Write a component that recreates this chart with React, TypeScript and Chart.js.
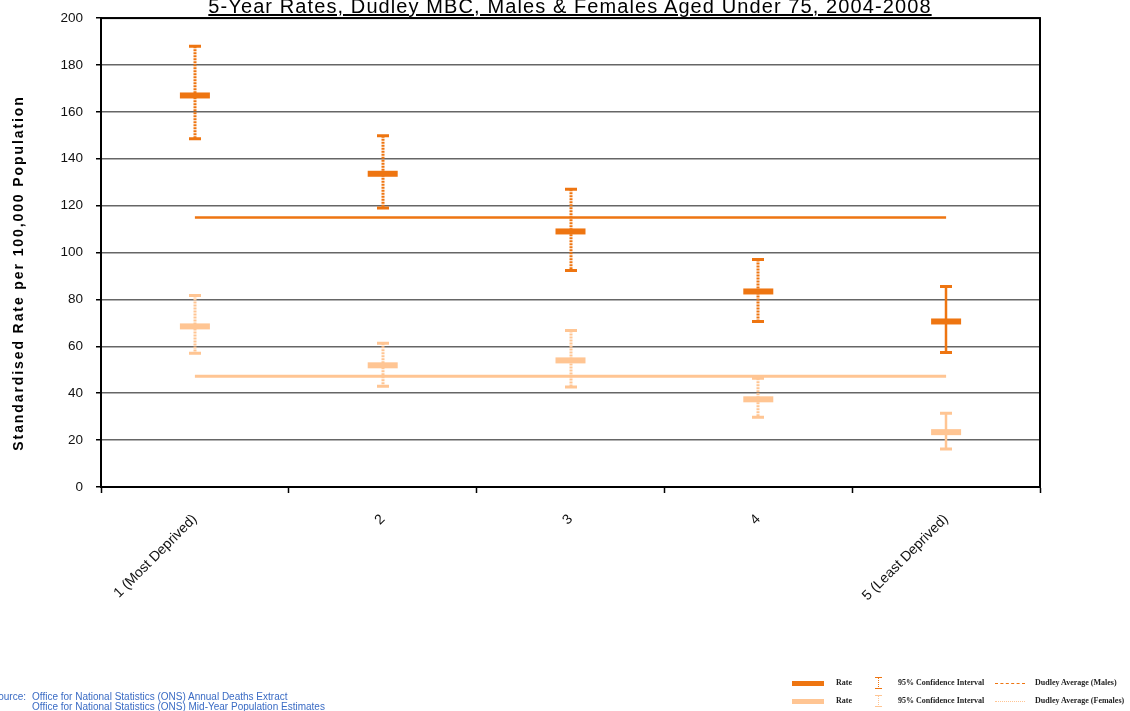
import React, { useEffect, useRef } from "react";
import { Chart, registerables } from "chart.js";

Chart.register(...registerables);

const categories = ["1 (Most Deprived)", "2", "3", "4", "5 (Least Deprived)"];
const maleRate = [167, 133.6, 109, 83.4, 70.6];
const maleLower = [148.5, 119, 92.3, 70.6, 57.4];
const maleUpper = [188, 149.8, 127, 97, 85.5];
const femaleRate = [68.5, 51.9, 54, 37.4, 23.4];
const femaleLower = [57, 43, 42.6, 29.8, 16.2];
const femaleUpper = [81.7, 61.3, 66.8, 46.4, 31.5];
const maleAverage = [115, 115, 115, 115, 115];
const femaleAverage = [47.2, 47.2, 47.2, 47.2, 47.2];
const maleDotted = [true, true, true, true, false];
const femaleDotted = [true, true, true, true, false];
const yTicks = [0, 20, 40, 60, 80, 100, 120, 140, 160, 180, 200];

const MALE = "#EE7511";
const FEMALE = "#FFC593";

const errorBarPlugin = {
  id: "errorBars",
  afterDatasetDraw(chart: any, args: any) {
    if (args.index !== 2) return;
    const ctx = chart.ctx;
    const x = chart.scales.x;
    const y = chart.scales.y;
    const drawSet = (lo: number[], hi: number[], dotted: boolean[], color: string) => {
      for (let i = 0; i < lo.length; i++) {
        const px = Math.round(x.getPixelForValue(i));
        const yl = y.getPixelForValue(lo[i]);
        const yh = y.getPixelForValue(hi[i]);
        ctx.save();
        ctx.strokeStyle = color;
        ctx.lineWidth = dotted[i] ? 3 : 2.5;
        ctx.setLineDash(dotted[i] ? [2, 1] : []);
        ctx.beginPath();
        ctx.moveTo(px, yh);
        ctx.lineTo(px, yl);
        ctx.stroke();
        ctx.setLineDash([]);
        ctx.lineWidth = 3;
        ctx.beginPath();
        ctx.moveTo(px - 6, yh);
        ctx.lineTo(px + 6, yh);
        ctx.moveTo(px - 6, yl);
        ctx.lineTo(px + 6, yl);
        ctx.stroke();
        ctx.restore();
      }
    };
    drawSet(femaleLower, femaleUpper, femaleDotted, FEMALE);
    drawSet(maleLower, maleUpper, maleDotted, MALE);
  },
};

const framePlugin = {
  id: "frame",
  afterDraw(chart: any) {
    const { left, right, top, bottom } = chart.chartArea;
    const ctx = chart.ctx;
    ctx.save();
    ctx.strokeStyle = "#000";
    ctx.lineWidth = 2;
    ctx.strokeRect(left, top, right - left, bottom - top);
    ctx.restore();
  },
};

export default function App() {
  const ref = useRef<HTMLCanvasElement | null>(null);
  useEffect(() => {
    if (!ref.current) return;
    const chart = new Chart(ref.current, {
      type: "line",
      data: {
        labels: categories,
        datasets: [
          {
            label: "Rate (Males)",
            data: maleRate,
            showLine: false,
            pointStyle: "line",
            pointRadius: 15,
            pointBorderWidth: 6,
            borderColor: MALE,
            backgroundColor: MALE,
          },
          {
            label: "Rate (Females)",
            data: femaleRate,
            showLine: false,
            pointStyle: "line",
            pointRadius: 15,
            pointBorderWidth: 6,
            borderColor: FEMALE,
            backgroundColor: FEMALE,
          },
          {
            label: "Dudley Average (Males)",
            data: maleAverage,
            pointRadius: 0,
            borderWidth: 2.5,
            borderColor: MALE,
          },
          {
            label: "Dudley Average (Females)",
            data: femaleAverage,
            pointRadius: 0,
            borderWidth: 3,
            borderColor: FEMALE,
          },
        ],
      },
      options: {
        animation: false,
        responsive: false,
        layout: { padding: { left: 0, right: 90, top: 0, bottom: 0 } },
        plugins: { legend: { display: false }, title: { display: false }, tooltip: { enabled: false } },
        scales: {
          x: {
            offset: true,
            grid: { offset: true, drawOnChartArea: false, tickLength: 6, tickColor: "#000", tickWidth: 1.5 },
            border: { color: "#000", width: 2 },
            ticks: {
              maxRotation: 45,
              minRotation: 45,
              color: "#111",
              font: { family: "Liberation Sans, Arial", size: 14 },
              padding: 18,
            },
            afterFit(scale: any) {
              scale.height = 224;
            },
          },
          y: {
            min: 0,
            max: 200,
            afterBuildTicks(scale: any) {
              scale.ticks = yTicks.map((v) => ({ value: v }));
            },
            grid: { color: "#666", lineWidth: 1.5, tickLength: 5, tickColor: "#000", tickWidth: 1.5 },
            border: { color: "#000", width: 2 },
            ticks: {
              color: "#111",
              font: { family: "Liberation Sans, Arial", size: 13.5 },
              padding: 13,
            },
            afterFit(scale: any) {
              scale.width = 101;
            },
          },
        },
      },
      plugins: [errorBarPlugin, framePlugin],
    });
    return () => chart.destroy();
  }, []);

  const legendText: React.CSSProperties = {
    position: "absolute",
    fontFamily: "Liberation Serif, serif",
    fontSize: 8,
    fontWeight: "bold",
    color: "#222",
    whiteSpace: "nowrap",
    lineHeight: "8px",
  };
  const ciIcon = (color: string, top: number) => (
    <div style={{ position: "absolute", left: 875, top, width: 7, height: 12 }}>
      <div style={{ position: "absolute", left: 0, top: 0, width: 7, height: 1, background: color }} />
      <div style={{ position: "absolute", left: 3, top: 0, width: 0, height: 12, borderLeft: `1px dotted ${color}` }} />
      <div style={{ position: "absolute", left: 0, top: 11, width: 7, height: 1, background: color }} />
    </div>
  );
  const srcStyle: React.CSSProperties = {
    position: "absolute",
    fontFamily: "Liberation Sans, Arial",
    fontSize: 10,
    lineHeight: "10px",
    color: "#3A6BC4",
    whiteSpace: "nowrap",
  };

  return (
    <div style={{ position: "absolute", left: 0, top: 0, width: 1130, height: 711, overflow: "hidden", background: "#fff" }}>
      <canvas ref={ref} width={1130} height={714} style={{ position: "absolute", left: 0, top: -3 }} />
      <div
        style={{
          position: "absolute",
          left: 100,
          width: 940,
          top: -6,
          textAlign: "center",
          fontFamily: "Liberation Sans, Arial",
          fontSize: 20,
          letterSpacing: 1.1,
          lineHeight: "24px",
          textDecoration: "underline",
          color: "#000",
          whiteSpace: "nowrap",
        }}
      >
        5-Year Rates, Dudley MBC, Males &amp; Females Aged Under 75, 2004-2008
      </div>
      <div
        style={{
          position: "absolute",
          left: 18,
          top: 273,
          transform: "translate(-50%, -50%) rotate(-90deg)",
          fontFamily: "Liberation Sans, Arial",
          fontWeight: "bold",
          fontSize: 14,
          letterSpacing: 1.9,
          whiteSpace: "nowrap",
          color: "#000",
        }}
      >
        Standardised Rate per 100,000 Population
      </div>
      <div style={{ ...srcStyle, right: 1130 - 26, top: 692, textAlign: "right" }}>Source:</div>
      <div style={{ ...srcStyle, left: 32, top: 692 }}>Office for National Statistics (ONS) Annual Deaths Extract</div>
      <div style={{ ...srcStyle, left: 32, top: 702 }}>Office for National Statistics (ONS) Mid-Year Population Estimates</div>
      {/* legend */}
      <div style={{ position: "absolute", left: 792, top: 681, width: 32, height: 5, background: MALE }} />
      <div style={{ ...legendText, left: 836, top: 679 }}>Rate</div>
      {ciIcon(MALE, 677)}
      <div style={{ ...legendText, left: 898, top: 679 }}>95% Confidence Interval</div>
      <div style={{ position: "absolute", left: 995, top: 683, width: 30, height: 0, borderTop: `1px dashed ${MALE}` }} />
      <div style={{ ...legendText, left: 1035, top: 679 }}>Dudley Average (Males)</div>

      <div style={{ position: "absolute", left: 792, top: 699, width: 32, height: 5, background: FEMALE }} />
      <div style={{ ...legendText, left: 836, top: 697 }}>Rate</div>
      {ciIcon(FEMALE, 695)}
      <div style={{ ...legendText, left: 898, top: 697 }}>95% Confidence Interval</div>
      <div style={{ position: "absolute", left: 995, top: 701, width: 30, height: 0, borderTop: `1px dotted ${FEMALE}` }} />
      <div style={{ ...legendText, left: 1035, top: 697 }}>Dudley Average (Females)</div>
    </div>
  );
}
